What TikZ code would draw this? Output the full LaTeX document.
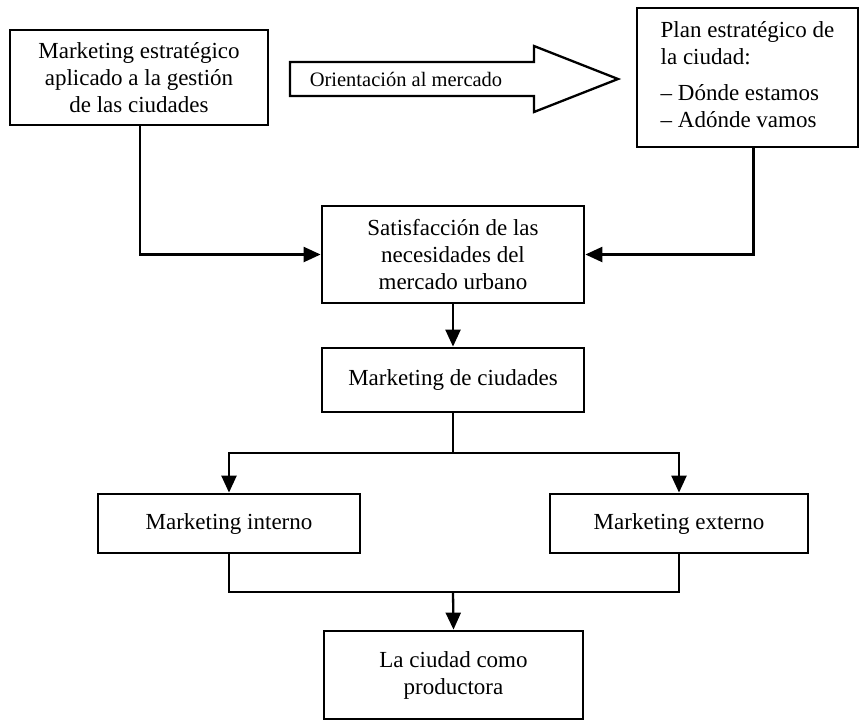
\documentclass[tikz,border=0pt]{standalone}
\usepackage{fontspec}
\setmainfont{Liberation Serif}
\usetikzlibrary{arrows.meta}

\begin{document}
\begin{tikzpicture}[x=1pt,y=-1pt]
\tikzset{box/.style = {draw=black, line width=2.8pt, align=center, inner sep=2pt,
    font=\fontsize{23}{27}\selectfont}}
\tikzset{conn/.style = {line width=2.3pt}}
\tikzset{arr/.style = {conn, -{Triangle[length=17pt,width=15pt]}}}
\useasboundingbox (0,0) rectangle (861,721);

    \node[box, minimum width=258pt, minimum height=95pt] (mkest) at (139,77.5)
        {Marketing estratégico\\aplicado a la gestión\\de las ciudades};
    \node[box, minimum width=221pt, minimum height=139pt, align=left] (plan) at (747.5,77.5)
        {Plan estratégico de\\la ciudad:\\[9pt]-- Dónde estamos\\-- Adónde vamos\\[-20pt]};

    % flecha grande
    \draw[line width=2.3pt, line join=miter]
        (290,62)--(534,62)--(534,46)--(618,79)--(534,112)--(534,96)--(290,96)--cycle;
    \node[font=\fontsize{20.5}{24}\selectfont] (orient) at (406,79) {Orientación al mercado};

    \node[box, minimum width=262pt, minimum height=97pt] (satis) at (453,254.5)
        {Satisfacción de las\\necesidades del\\mercado urbano};
    \node[box, minimum width=262pt, minimum height=64pt] (mkciud) at (453,380)
        {Marketing de ciudades};
    \node[box, minimum width=262pt, minimum height=59pt] (mkint) at (229,523.5)
        {Marketing interno};
    \node[box, minimum width=258pt, minimum height=59pt] (mkext) at (679,523.5)
        {Marketing externo};
    \node[box, minimum width=259pt, minimum height=88pt] (ciudad) at (453.5,675)
        {La ciudad como\\productora};

    \coordinate (split) at (453,453);
    \coordinate (join) at (453,592);

\draw[arr] ([xshift=1pt]mkest.south) |- (satis.west);
\draw[arr] ([xshift=6pt]plan.south) |- (satis.east);
\draw[arr] (satis.south) -- (mkciud.north);
\draw[conn] (mkciud.south) -- (split);
\draw[arr] (split) -| (mkint.north);
\draw[arr] (split) -| (mkext.north);
\draw[conn] (mkint.south) |- (join) -| (mkext.south);
\draw[arr] (join) -- (ciudad.north);

\end{tikzpicture}
\end{document}
